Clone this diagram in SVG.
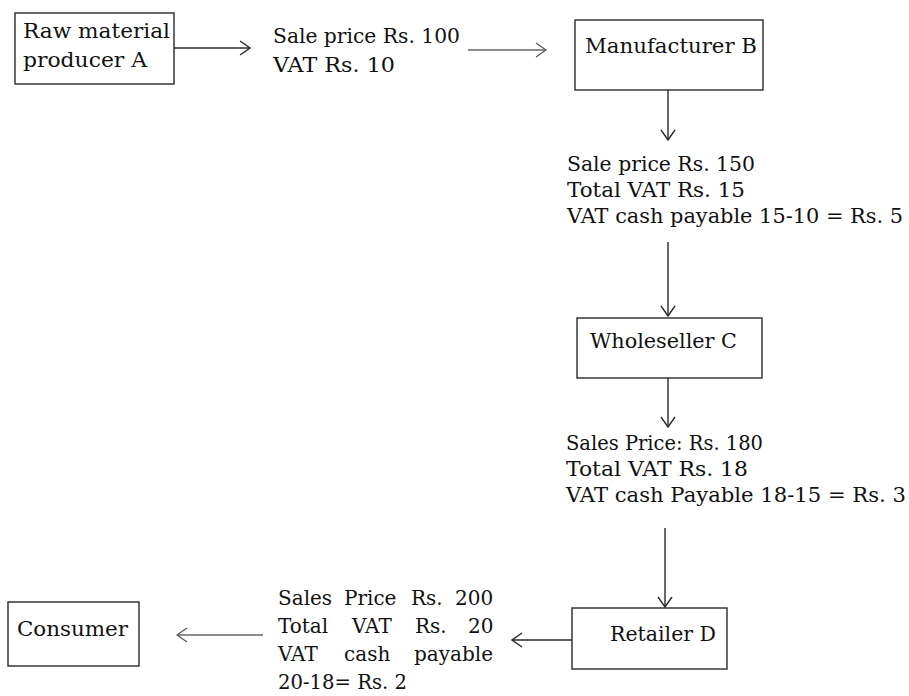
<svg xmlns="http://www.w3.org/2000/svg" width="909" height="696" viewBox="0 0 909 696">
<style>
  .box { fill: none; stroke: #2a2a2a; stroke-width: 1.4; }
  .t { font-family: "DejaVu Serif", "Liberation Serif", serif; font-size: 20px; fill: #111; }
  .c { fill: none; stroke: #2a2a2a; stroke-width: 1.4; }
  .cl { fill: none; stroke: #666; stroke-width: 1.3; }
</style>
<defs>
  <marker id="ah" viewBox="0 0 12 16" refX="11" refY="8" markerWidth="12" markerHeight="16" markerUnits="userSpaceOnUse" orient="auto">
    <path d="M1,1 L11,8 L1,15" fill="none" stroke="#2a2a2a" stroke-width="1.4"/>
  </marker>
  <marker id="ahl" viewBox="0 0 12 16" refX="11" refY="8" markerWidth="12" markerHeight="16" markerUnits="userSpaceOnUse" orient="auto">
    <path d="M1,1 L11,8 L1,15" fill="none" stroke="#555" stroke-width="1.3"/>
  </marker>
</defs>
<rect width="909" height="696" fill="#fff"/>

<g id="connectors">
  <line class="c" x1="174" y1="48" x2="250" y2="48" marker-end="url(#ah)"/>
  <line class="cl" x1="468" y1="50" x2="546" y2="50" marker-end="url(#ahl)"/>
  <line class="c" x1="668" y1="90" x2="668" y2="140" marker-end="url(#ah)"/>
  <line class="c" x1="668" y1="242" x2="668" y2="316" marker-end="url(#ah)"/>
  <line class="c" x1="668" y1="378" x2="668" y2="427" marker-end="url(#ah)"/>
  <line class="c" x1="665" y1="528" x2="665" y2="607" marker-end="url(#ah)"/>
  <line class="c" x1="572" y1="640" x2="512" y2="640" marker-end="url(#ah)"/>
  <line class="cl" x1="263" y1="635" x2="177" y2="635" marker-end="url(#ahl)"/>
</g>

<g id="producerA">
  <rect class="box" x="15" y="13" width="159" height="71"/>
  <text class="t" x="23" y="38" textLength="147" lengthAdjust="spacingAndGlyphs">Raw material</text>
  <text class="t" x="23" y="67" textLength="124" lengthAdjust="spacingAndGlyphs">producer A</text>
</g>

<g id="labelA">
  <text class="t" x="273" y="43" textLength="187" lengthAdjust="spacingAndGlyphs">Sale price Rs. 100</text>
  <text class="t" x="273" y="72" textLength="122" lengthAdjust="spacingAndGlyphs">VAT Rs. 10</text>
</g>

<g id="manufacturerB">
  <rect class="box" x="575" y="20" width="188" height="70"/>
  <text class="t" x="585" y="53" textLength="172" lengthAdjust="spacingAndGlyphs">Manufacturer B</text>
</g>

<g id="labelB">
  <text class="t" x="567" y="171" textLength="188" lengthAdjust="spacingAndGlyphs">Sale price Rs. 150</text>
  <text class="t" x="567" y="197" textLength="178" lengthAdjust="spacingAndGlyphs">Total VAT Rs. 15</text>
  <text class="t" x="567" y="223" textLength="336" lengthAdjust="spacingAndGlyphs">VAT cash payable 15-10 = Rs. 5</text>
</g>

<g id="wholesellerC">
  <rect class="box" x="577" y="318" width="185" height="60"/>
  <text class="t" x="590" y="348" textLength="147" lengthAdjust="spacingAndGlyphs">Wholeseller C</text>
</g>

<g id="labelC">
  <text class="t" x="566" y="450" textLength="197" lengthAdjust="spacingAndGlyphs">Sales Price: Rs. 180</text>
  <text class="t" x="566" y="476" textLength="182" lengthAdjust="spacingAndGlyphs">Total VAT Rs. 18</text>
  <text class="t" x="566" y="502" textLength="340" lengthAdjust="spacingAndGlyphs">VAT cash Payable 18-15 = Rs. 3</text>
</g>

<g id="retailerD">
  <rect class="box" x="572" y="608" width="155" height="61"/>
  <text class="t" x="610" y="641" textLength="106" lengthAdjust="spacingAndGlyphs">Retailer D</text>
</g>

<g id="labelD">
  <text class="t" y="605"><tspan x="278">Sales</tspan><tspan x="344">Price</tspan><tspan x="411">Rs.</tspan><tspan x="455">200</tspan></text>
  <text class="t" y="633"><tspan x="278">Total</tspan><tspan x="352">VAT</tspan><tspan x="415">Rs.</tspan><tspan x="468">20</tspan></text>
  <text class="t" y="661"><tspan x="278">VAT</tspan><tspan x="344">cash</tspan><tspan x="414">payable</tspan></text>
  <text class="t" x="278" y="689" textLength="129" lengthAdjust="spacingAndGlyphs">20-18= Rs. 2</text>
</g>

<g id="consumer">
  <rect class="box" x="8" y="602" width="131" height="64"/>
  <text class="t" x="17" y="636" textLength="111" lengthAdjust="spacingAndGlyphs">Consumer</text>
</g>
</svg>
